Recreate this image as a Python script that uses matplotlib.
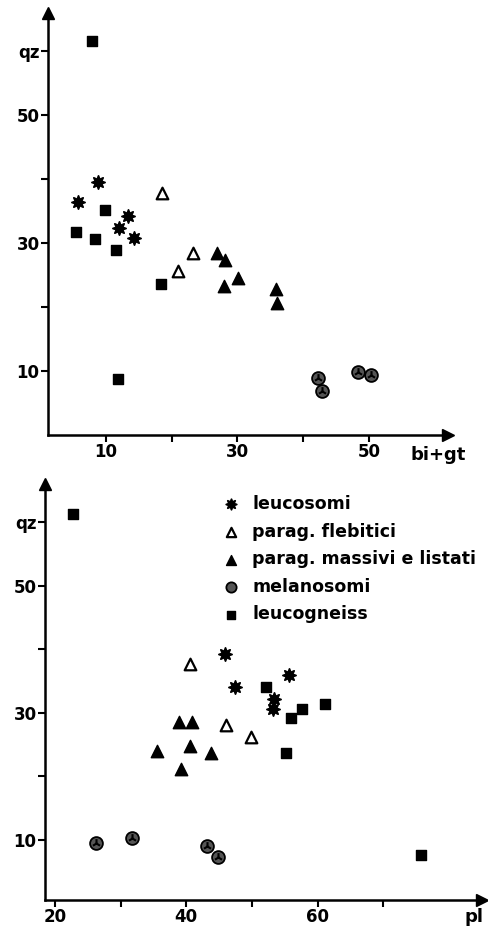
import numpy as np
import matplotlib.pyplot as plt

# dati: qz contro bi+gt (sopra) e qz contro pl (sotto)
leuco_bigt = [5.7, 8.8, 13.3, 12.0, 14.3]
leuco_qz1 = [36.4, 39.5, 34.2, 32.3, 30.8]
leuco_pl = [45.9, 55.7, 47.4, 53.3, 53.2]
leuco_qz2 = [39.2, 36.0, 34.1, 32.2, 30.6]

fleb_bigt = [18.5, 23.2, 21.0]
fleb_qz1 = [37.8, 28.4, 25.6]
fleb_pl = [40.6, 46.0, 49.9]
fleb_qz2 = [37.7, 28.1, 26.2]

mass_bigt = [26.9, 28.1, 27.9, 30.1, 35.8, 36.0]
mass_qz1 = [28.4, 27.3, 23.3, 24.5, 22.8, 20.6]
mass_pl = [38.9, 40.8, 35.6, 40.5, 43.7, 39.2]
mass_qz2 = [28.6, 28.6, 24.0, 24.7, 23.6, 21.2]

mela_bigt = [42.2, 42.8, 48.3, 50.3]
mela_qz1 = [8.9, 6.9, 9.8, 9.4]
mela_pl = [26.3, 31.8, 43.1, 44.9]
mela_qz2 = [9.5, 10.3, 9.0, 7.3]

gneiss_bigt = [7.9, 9.8, 5.4, 8.3, 11.5, 18.4, 11.9]
gneiss_qz1 = [61.6, 35.2, 31.7, 30.6, 28.9, 23.6, 8.75]
gneiss_pl = [22.7, 52.1, 61.1, 57.6, 56.0, 55.1, 75.7]
gneiss_qz2 = [61.2, 34.0, 31.3, 30.5, 29.1, 23.6, 7.6]

labels = ['leucosomi', 'parag. flebitici', 'parag. massivi e listati',
          'melanosomi', 'leucogneiss']

W, H = 488, 933
fig = plt.figure(figsize=(W / 100, H / 100), dpi=100)
plt.rcParams['font.family'] = 'DejaVu Sans'
plt.rcParams['font.weight'] = 'bold'


def make_axes(px_left, px_right, px_bottom, px_top):
    ax = fig.add_axes([px_left / W, 1 - px_bottom / H,
                       (px_right - px_left) / W, (px_bottom - px_top) / H])
    for s in ['top', 'right']:
        ax.spines[s].set_visible(False)
    for s in ['left', 'bottom']:
        ax.spines[s].set_linewidth(1.8)
    ax.tick_params(direction='out', length=5, width=1.5, labelsize=12, pad=1)
    ax.plot(1, 0, '>k', ms=8, transform=ax.transAxes, clip_on=False)
    ax.plot(0, 1, '^k', ms=8, transform=ax.transAxes, clip_on=False)
    return ax


def draw(ax, xs, ys):
    h = []
    h.append(ax.scatter(xs[0], ys[0], marker=(8, 1, 0), s=90, c='k', lw=1.3,
                        edgecolors='k', zorder=3))
    h.append(ax.scatter(xs[1], ys[1], marker='^', s=70, facecolors='white',
                        edgecolors='k', lw=1.6, zorder=3))
    h.append(ax.scatter(xs[2], ys[2], marker='^', s=80, c='k', zorder=3))
    h.append(ax.scatter(xs[3], ys[3], marker='o', s=85, facecolors='#555555',
                        edgecolors='k', lw=1.3, zorder=3))
    ax.scatter(xs[3], ys[3], marker='2', s=40, c='k', lw=1.5, zorder=4)
    h.append(ax.scatter(xs[4], ys[4], marker='s', s=55, c='k', zorder=3))
    return h


# pannello superiore
ax1 = make_axes(48, 448, 435, 13)
ax1.set_xlim(1.2, 62)
ax1.set_ylim(0, 66)
draw(ax1, [leuco_bigt, fleb_bigt, mass_bigt, mela_bigt, gneiss_bigt],
     [leuco_qz1, fleb_qz1, mass_qz1, mela_qz1, gneiss_qz1])
ax1.set_xticks([10, 20, 30, 40, 50])
ax1.set_xticklabels(['10', '', '30', '', '50'])
ax1.set_yticks([10, 20, 30, 40, 50, 60])
ax1.set_yticklabels(['10', '', '30', '', '50', 'qz'])
ax1.text(0.905, -0.025, 'bi+gt', transform=ax1.transAxes, fontsize=13,
         fontweight='bold', ha='left', va='top')

# pannello inferiore
ax2 = make_axes(45, 482, 900, 484)
ax2.set_xlim(18.5, 85)
ax2.set_ylim(0.5, 66)
h = draw(ax2, [leuco_pl, fleb_pl, mass_pl, mela_pl, gneiss_pl],
         [leuco_qz2, fleb_qz2, mass_qz2, mela_qz2, gneiss_qz2])
ax2.set_xticks([20, 30, 40, 50, 60, 70])
ax2.set_xticklabels(['20', '', '40', '', '60', ''])
ax2.set_yticks([10, 20, 30, 40, 50, 60])
ax2.set_yticklabels(['10', '', '30', '', '50', 'qz'])
ax2.text(0.96, -0.02, 'pl', transform=ax2.transAxes, fontsize=13,
         fontweight='bold', ha='left', va='top')

fig.legend(h, labels, loc='upper left', bbox_to_anchor=(222 / W, 1 - 495 / H),
           frameon=False, prop={'weight': 'bold', 'size': 12.5},
           handlelength=1.0, handletextpad=0.75, labelspacing=0.55,
           borderpad=0, borderaxespad=0, markerscale=0.8)

fig.savefig('out.png', dpi=100)
